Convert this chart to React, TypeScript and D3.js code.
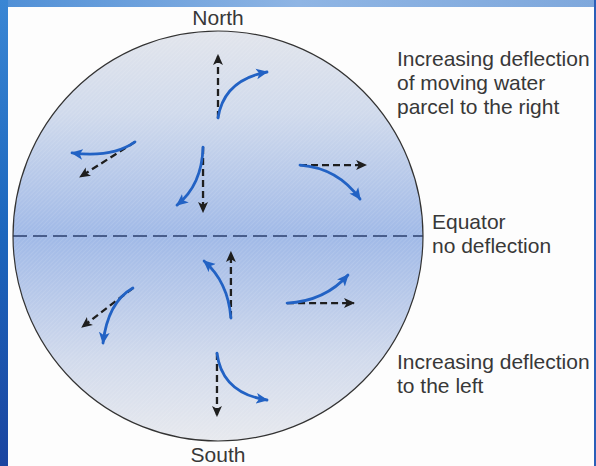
import React from "react";
import * as d3 from "d3";

// Globe-relative coordinates: x, y in [-1, 1] (y up), mapped by scales.
const parcelStart: [number, number][] = [
  [0.0, 0.576], [-0.405, 0.459], [-0.073, 0.434], [0.4, 0.346],
  [0.063, -0.4], [-0.415, -0.254], [0.337, -0.327], [-0.005, -0.571],
];
const straightEnd: [number, number][] = [
  [0.0, 0.883], [-0.673, 0.288], [-0.073, 0.117], [0.722, 0.346],
  [0.063, -0.078], [-0.663, -0.444], [0.663, -0.327], [-0.005, -0.878],
];
const deflectedEnd: [number, number][] = [
  [0.239, 0.8], [-0.712, 0.405], [-0.2, 0.151], [0.693, 0.18],
  [-0.068, -0.122], [-0.561, -0.522], [0.634, -0.19], [0.239, -0.8],
];
const curveControl: [number, number][] = [
  [0.029, 0.761], [-0.517, 0.38], [-0.078, 0.249], [0.585, 0.332],
  [0.049, -0.224], [-0.537, -0.322], [0.522, -0.317], [0.02, -0.766],
];

const poleLabels = ["North", "South"];
const upperNote = ["Increasing deflection", "of moving water", "parcel to the right"];
const equatorNote = ["Equator", "no deflection"];
const lowerNote = ["Increasing deflection", "to the left"];

const W = 596;
const H = 466;
const cx = 218;
const cy = 236;
const R = 205;

export default function App() {
  const x = d3.scaleLinear().domain([-1, 1]).range([cx - R, cx + R]);
  const y = d3.scaleLinear().domain([-1, 1]).range([cy + R, cy - R]);

  const straightLine = (i: number) => {
    const p = d3.path();
    p.moveTo(x(parcelStart[i][0]), y(parcelStart[i][1]));
    p.lineTo(x(straightEnd[i][0]), y(straightEnd[i][1]));
    return p.toString();
  };
  const curve = (i: number) => {
    const p = d3.path();
    p.moveTo(x(parcelStart[i][0]), y(parcelStart[i][1]));
    p.quadraticCurveTo(
      x(curveControl[i][0]), y(curveControl[i][1]),
      x(deflectedEnd[i][0]), y(deflectedEnd[i][1])
    );
    return p.toString();
  };

  const font = "'Liberation Sans', Arial, Helvetica, sans-serif";
  const textColor = "#383838";

  return (
    <svg
      width={W}
      height={H}
      viewBox={`0 0 ${W} ${H}`}
      style={{ position: "absolute", left: 0, top: 0, display: "block" }}
    >
      <defs>
        <linearGradient id="leftStrip" x1="0" y1="0" x2="0" y2="1">
          <stop offset="0" stopColor="#3a86d4" />
          <stop offset="0.5" stopColor="#1c66bd" />
          <stop offset="1" stopColor="#1b45a0" />
        </linearGradient>
        <linearGradient id="topStrip" x1="0" y1="0" x2="1" y2="0">
          <stop offset="0" stopColor="#4f8fd6" />
          <stop offset="0.5" stopColor="#8fb5e4" />
          <stop offset="1" stopColor="#7fa8dc" />
        </linearGradient>
        <linearGradient id="globeFill" x1="0" y1="0" x2="0" y2="1">
          <stop offset="0" stopColor="#e2e5ec" />
          <stop offset="0.2" stopColor="#d0daec" />
          <stop offset="0.5" stopColor="#a0b9e7" />
          <stop offset="0.8" stopColor="#d1daec" />
          <stop offset="1" stopColor="#e7e9ee" />
        </linearGradient>
        <pattern id="hatch" width="3" height="3" patternUnits="userSpaceOnUse" patternTransform="rotate(45)">
          <line x1="0" y1="0" x2="0" y2="3" stroke="#ffffff" strokeWidth="0.8" strokeOpacity="0.25" />
        </pattern>
        <clipPath id="globeClip">
          <circle cx={x(0)} cy={y(0)} r={x(1) - x(0)} />
        </clipPath>
        <marker id="blueHead" viewBox="0 0 10 10" refX="9" refY="5" markerWidth="12" markerHeight="12" markerUnits="userSpaceOnUse" orient="auto">
          <path d="M0,0.5 L10,5 L0,9.5 L2.5,5 z" fill="#2262c4" />
        </marker>
        <marker id="blackHead" viewBox="0 0 10 10" refX="9" refY="5" markerWidth="11" markerHeight="11" markerUnits="userSpaceOnUse" orient="auto">
          <path d="M0,0.5 L10,5 L0,9.5 L2.5,5 z" fill="#1e1e1e" />
        </marker>
      </defs>

      {/* frame */}
      <rect x={0} y={0} width={W} height={H} fill="#ffffff" />
      <rect x={0} y={0} width={W} height={7} fill="url(#topStrip)" />
      <rect x={0} y={0} width={8} height={H} fill="url(#leftStrip)" />
      <rect x={W - 2} y={0} width={2} height={H} fill="#2a5fb8" />
      <rect x={8} y={7} width={W - 10} height={H - 7} fill="#fdfdfd" />

      {/* globe */}
      <circle cx={x(0)} cy={y(0)} r={x(1) - x(0)} fill="url(#globeFill)" />
      <circle cx={x(0)} cy={y(0)} r={x(1) - x(0)} fill="url(#hatch)" />
      <line
        x1={x(-1)} x2={x(1)} y1={y(0)} y2={y(0)}
        stroke="#2b3f6e" strokeWidth={1.6} strokeDasharray="14 6"
        clipPath="url(#globeClip)"
      />
      <circle cx={x(0)} cy={y(0)} r={x(1) - x(0)} fill="none" stroke="#333" strokeWidth={1.2} />

      {/* arrows */}
      {parcelStart.map((_, i) => (
        <g key={i}>
          <path d={straightLine(i)} fill="none" stroke="#1e1e1e" strokeWidth={2.3} strokeDasharray="7 4" markerEnd="url(#blackHead)" />
          <path d={curve(i)} fill="none" stroke="#2262c4" strokeWidth={2.8} strokeLinecap="round" markerEnd="url(#blueHead)" />
        </g>
      ))}

      {/* labels */}
      <g fontFamily={font} fill={textColor} fontSize={21}>
        <text x={x(0)} y={25} textAnchor="middle">{poleLabels[0]}</text>
        <text x={x(0)} y={462} textAnchor="middle">{poleLabels[1]}</text>
        {upperNote.map((t, i) => (
          <text key={"u" + i} x={397} y={66 + i * 24}>{t}</text>
        ))}
        {equatorNote.map((t, i) => (
          <text key={"e" + i} x={432} y={229 + i * 24}>{t}</text>
        ))}
        {lowerNote.map((t, i) => (
          <text key={"l" + i} x={397} y={369 + i * 24}>{t}</text>
        ))}
      </g>
    </svg>
  );
}
